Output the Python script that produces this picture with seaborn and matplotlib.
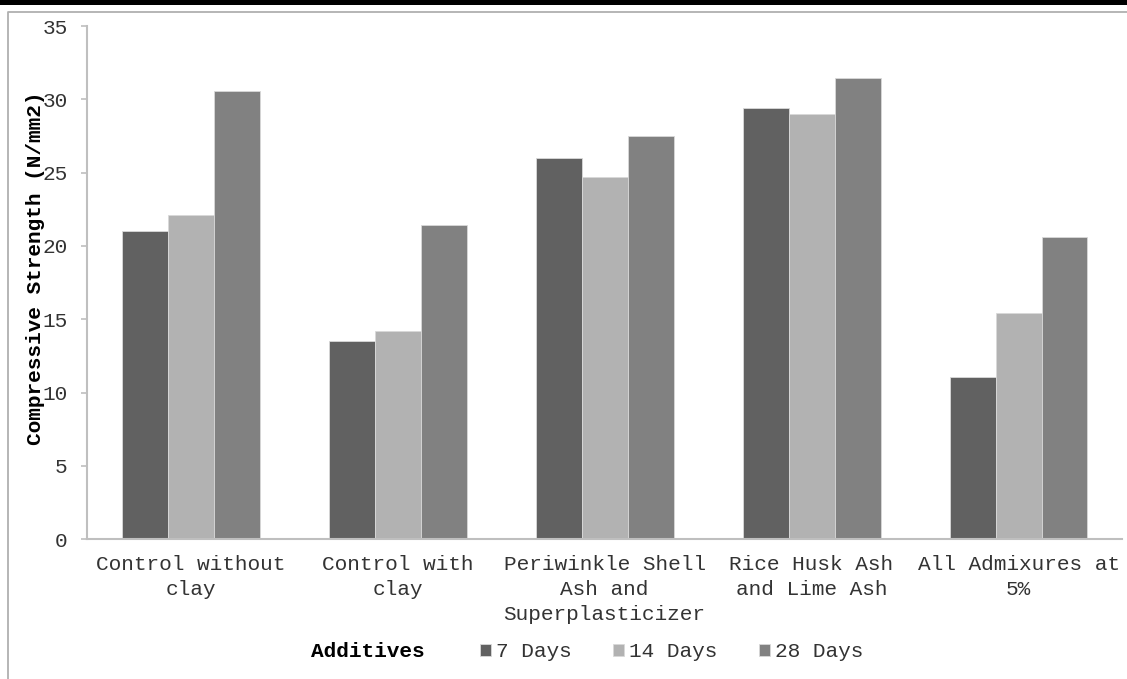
import matplotlib
matplotlib.use("Agg")
import matplotlib.pyplot as plt
from matplotlib.patches import Rectangle
from matplotlib.lines import Line2D
import seaborn as sns
import pandas as pd

# Compressive strength of the mixes at each curing age
additives = [
    "Control without\nclay",
    "Control with\nclay",
    "Periwinkle Shell\nAsh and\nSuperplasticizer",
    "Rice Husk Ash\nand Lime Ash",
    "All Admixures at\n5%",
]
ages = ["7 Days", "14 Days", "28 Days"]
days7 = [21.0, 13.5, 26.0, 29.4, 11.1]
days14 = [22.1, 14.2, 24.7, 29.0, 15.45]
days28 = [30.6, 21.45, 27.5, 31.45, 20.6]
bar_colors = ["#616161", "#b2b2b2", "#818181"]
y_ticks = [0, 5, 10, 15, 20, 25, 30, 35]

rows = []
for age, vals in zip(ages, [days7, days14, days28]):
    for add, v in zip(additives, vals):
        rows.append({"Additive": add, "Age": age, "Strength": v})
df = pd.DataFrame(rows)

sns.set_theme(style="white")
plt.rcParams["font.family"] = ["Liberation Mono", "DejaVu Sans Mono"]
FS = 15.2

W, H = 1127, 679
fig = plt.figure(figsize=(W / 100, H / 100), dpi=100)
fig.patch.set_facecolor("white")

# axes placed in pixel units of the figure
x0, x1, ytop, ybot = 87, 1122, 26, 539.3
ax = fig.add_axes([x0 / W, (H - ybot) / H, (x1 - x0) / W, (ybot - ytop) / H])

sns.barplot(
    data=df, x="Additive", y="Strength", hue="Age", hue_order=ages,
    order=additives, palette=bar_colors, saturation=1, width=2 / 3,
    edgecolor="#d9d9d9", linewidth=0.6, ax=ax, legend=True,
)

ax.set_ylim(0, 35)
ax.set_xlim(-0.5, 4.5)
ax.set_yticks(y_ticks)
ax.set_yticklabels([str(t) for t in y_ticks])

for side in ["top", "right"]:
    ax.spines[side].set_visible(False)
for side in ["left", "bottom"]:
    ax.spines[side].set_color("#bfbfbf")
    ax.spines[side].set_linewidth(1.5)

ax.tick_params(axis="y", which="major", left=True, length=4, width=1.2,
               color="#bfbfbf", pad=10, labelsize=FS, labelcolor="#333333")
ax.tick_params(axis="x", which="major", bottom=False, length=0, pad=11,
               labelsize=FS, labelcolor="#333333")
for lab in ax.get_xticklabels():
    lab.set_linespacing(1.42)

ax.set_ylabel("Compressive Strength (N/mm2)", fontsize=FS, fontweight="bold",
              color="black")
ax.yaxis.set_label_coords(-0.0502, 0.5276)
ax.yaxis.label.set_va("center")

ax.set_xlabel("Additives", fontsize=FS, fontweight="bold", color="black")
ax.xaxis.set_label_coords((367.5 - x0) / (x1 - x0), (ybot - 651.7) / (ybot - ytop))
ax.xaxis.label.set_va("center")

handles, labels = ax.get_legend_handles_labels()
ax.legend(
    handles, labels, loc="center left",
    bbox_to_anchor=(480 / W, 1 - 651.7 / H), bbox_transform=fig.transFigure,
    ncol=3, frameon=False, fontsize=FS, handlelength=0.52, handleheight=0.52,
    handletextpad=0.25, columnspacing=1.95, borderpad=0, borderaxespad=0,
    labelcolor="#333333",
)

# chart frame: heavy rule at the top, light border on the left and top
fig.add_artist(Rectangle((0, 1 - 4.7 / H), 1, 4.7 / H, transform=fig.transFigure,
                         facecolor="black", edgecolor="none"))
fig.add_artist(Line2D([7.5 / W, 7.5 / W, 1], [0, 1 - 11.8 / H, 1 - 11.8 / H],
                      transform=fig.transFigure, color="#b0b0b0", linewidth=1.3))

fig.savefig("out.png", dpi=100, facecolor="white")
